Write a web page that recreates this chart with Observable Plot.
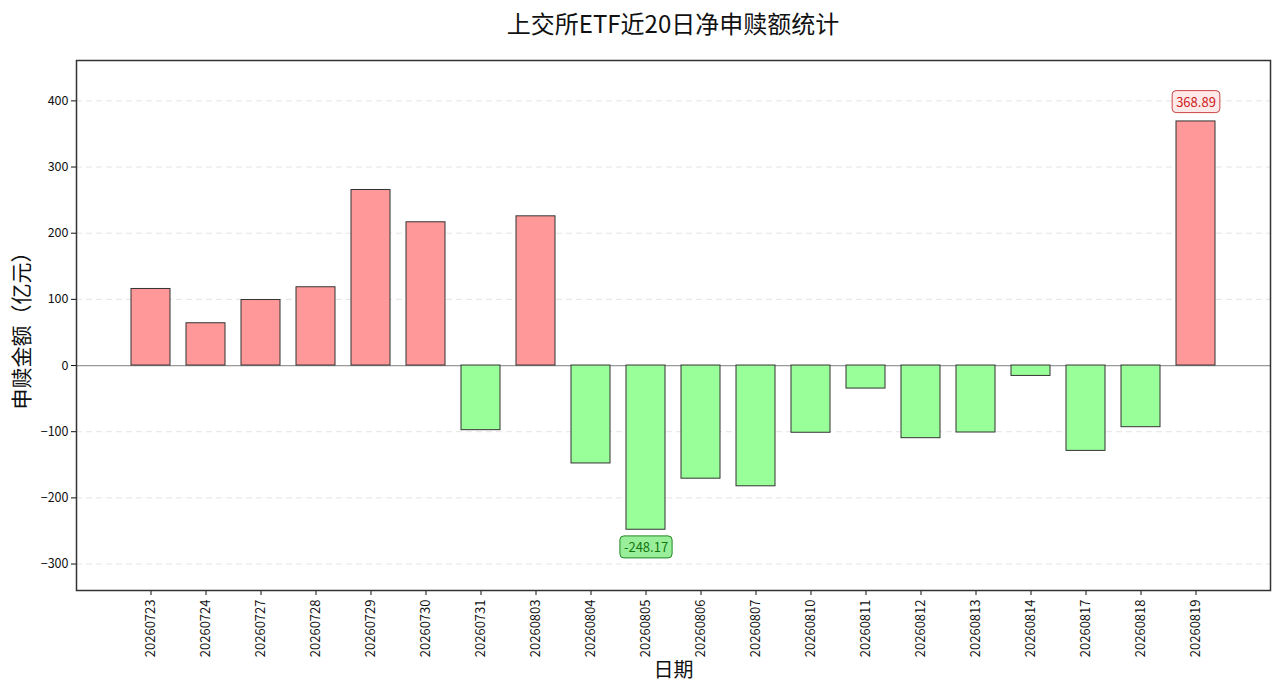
<!DOCTYPE html>
<html>
<head>
<meta charset="utf-8">
<script src="https://cdn.jsdelivr.net/npm/d3@7"></script>
<script src="https://cdn.jsdelivr.net/npm/@observablehq/plot@0.6"></script>
<style>
  body { margin: 0; background: #fff; }
  #title { width: 1194px; margin-left: 76px; height: 44px; line-height: 46px; text-align: center;
           font-family: "Noto Sans CJK SC", sans-serif; font-size: 24px; color: #111; }
</style>
</head>
<body>
<div id="title">上交所ETF近20日净申赎额统计</div>
<div id="chart"></div>
<script>
const dates = ["20260723","20260724","20260727","20260728","20260729","20260730","20260731","20260803","20260804","20260805",
               "20260806","20260807","20260810","20260811","20260812","20260813","20260814","20260817","20260818","20260819"];
const values = [115.7, 63.9, 99.0, 118.3, 265.3, 216.5, -97.7, 225.5, -148.0, -248.17,
                -171.0, -182.5, -101.6, -34.8, -109.8, -101.2, -15.7, -129.0, -93.2, 368.89];
const yTicks = [-300, -200, -100, 0, 100, 200, 300, 400];
const yLabel = "申赎金额（亿元）";
const xLabel = "日期";

const data = dates.map((d, i) => ({date: d, value: values[i]}));
const maxIdx = values.indexOf(d3.max(values));
const minIdx = values.indexOf(d3.min(values));
const annotations = [
  {date: dates[maxIdx], value: values[maxIdx], label: values[maxIdx].toFixed(2), pos: true},
  {date: dates[minIdx], value: values[minIdx], label: values[minIdx].toFixed(2), pos: false}
];

const plot = Plot.plot({
  width: 1280,
  height: 652,
  marginTop: 16,
  marginBottom: 106,
  marginLeft: 76,
  marginRight: 10,
  style: {fontFamily: "'Noto Sans CJK SC', sans-serif", fontSize: "12px", color: "#111", background: "#fff"},
  x: {type: "band", domain: dates, paddingInner: 0.3, paddingOuter: 0.99, label: null},
  y: {domain: [-340, 461], label: null},
  marks: [
    Plot.gridY(yTicks, {stroke: "#d8d8d8", strokeOpacity: 0.7, strokeDasharray: "6,4"}),
    Plot.ruleY([0], {stroke: "#999", strokeWidth: 1.2}),
    Plot.barY(data, {x: "date", y: "value", fill: d => d.value >= 0 ? "#ff9999" : "#99ff99", stroke: "#333", strokeWidth: 1}),
    Plot.axisY({ticks: yTicks, tickSize: 5, tickPadding: 3, fontSize: 12.5, label: null}),
    Plot.axisX({tickRotate: -90, tickSize: 5, tickPadding: 4, fontSize: 13, label: null}),
    Plot.frame({stroke: "#333", strokeWidth: 1.5}),
    Plot.text(annotations, {x: "date", y: "value", text: "label",
      fill: d => d.pos ? "#cc2222" : "#117711", fontSize: 13}),
    Plot.text([yLabel], {frameAnchor: "left", textAnchor: "middle", dx: -54, rotate: -90, fontSize: 21, fill: "#111"}),
    Plot.text([xLabel], {frameAnchor: "bottom", dy: 86, fontSize: 20, fill: "#111"})
  ]
});
document.getElementById("chart").appendChild(plot);

// offset annotation labels and draw rounded boxes behind them
const boxStyle = {};
annotations.forEach(a => boxStyle[a.label] = a);
plot.querySelectorAll("text").forEach(t => {
  const a = boxStyle[t.textContent];
  if (!a) return;
  const shift = a.pos ? -18.5 : 18.5;
  const tr = t.getAttribute("transform") || "";
  t.setAttribute("transform", tr + ` translate(0,${shift})`);
  const bb = t.getBBox();
  const rect = document.createElementNS("http://www.w3.org/2000/svg", "rect");
  rect.setAttribute("x", bb.x - 4);
  rect.setAttribute("y", bb.y - 1.5);
  rect.setAttribute("width", bb.width + 8);
  rect.setAttribute("height", bb.height + 3);
  rect.setAttribute("rx", 4);
  rect.setAttribute("fill", a.pos ? "#ffe8e8" : "#99ee99");
  rect.setAttribute("stroke", a.pos ? "#cc4444" : "#228822");
  rect.setAttribute("stroke-width", 1);
  rect.setAttribute("transform", t.getAttribute("transform"));
  t.parentNode.insertBefore(rect, t);
});
</script>
</body>
</html>
